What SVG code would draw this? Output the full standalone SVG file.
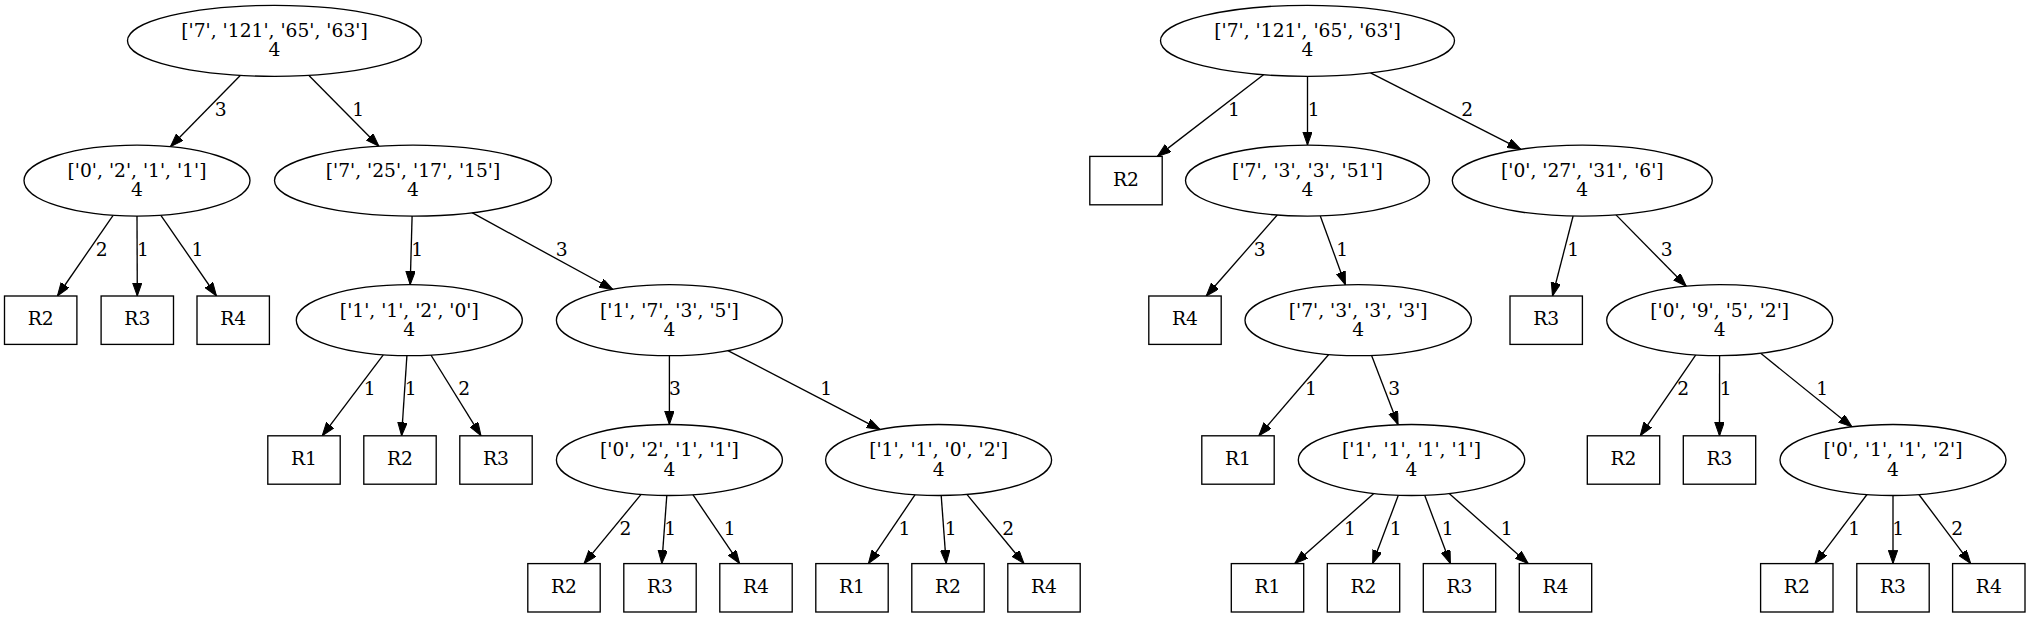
<svg xmlns="http://www.w3.org/2000/svg" width="2030" height="617" viewBox="0 0 2030 617">
<style>
.n ellipse,.n rect{fill:#fff;stroke:#000;stroke-width:1.34}
.t{font-family:"DejaVu Serif","Liberation Serif",serif;font-size:18.7px;text-anchor:middle;fill:#000}
.e line{stroke:#000;stroke-width:1.34;marker-end:url(#ah)}
</style>
<defs>
<marker id="ah" markerWidth="14" markerHeight="10" refX="13.4" refY="4.7" orient="auto" markerUnits="userSpaceOnUse"><path d="M0,0 L13.4,4.7 L0,9.4 z" fill="#000" stroke="#000" stroke-width="1"/></marker>
</defs>
<rect width="2030" height="617" fill="#fff"/>
<g id="edges" class="e">
<line x1="240.5" y1="75.3" x2="170.4" y2="146.7"/>
<line x1="308.7" y1="75.3" x2="378.9" y2="146.2"/>
<line x1="113.1" y1="215.3" x2="57.4" y2="296"/>
<line x1="137" y1="216.1" x2="137.3" y2="296"/>
<line x1="160.9" y1="215.3" x2="216.5" y2="296"/>
<line x1="412.1" y1="216.1" x2="410.2" y2="284.7"/>
<line x1="472" y1="212.7" x2="612.9" y2="289.5"/>
<line x1="383.3" y1="354.8" x2="322.2" y2="435.8"/>
<line x1="406.9" y1="355.7" x2="401.6" y2="435.8"/>
<line x1="430.9" y1="355" x2="481" y2="435.8"/>
<line x1="669.4" y1="355.7" x2="669.4" y2="424.5"/>
<line x1="727.9" y1="350.6" x2="880.1" y2="429.6"/>
<line x1="641.1" y1="494.4" x2="584" y2="563.6"/>
<line x1="666.8" y1="495.5" x2="661.8" y2="563.6"/>
<line x1="692.9" y1="494.7" x2="739.6" y2="563.6"/>
<line x1="915.1" y1="494.7" x2="868.4" y2="563.6"/>
<line x1="941.2" y1="495.5" x2="946.2" y2="563.6"/>
<line x1="966.9" y1="494.4" x2="1024" y2="563.6"/>
<line x1="1263.5" y1="74.7" x2="1157.4" y2="156.4"/>
<line x1="1307.5" y1="76.3" x2="1307.5" y2="145.1"/>
<line x1="1370.5" y1="72.9" x2="1520.8" y2="149.3"/>
<line x1="1277.3" y1="215" x2="1206.2" y2="296"/>
<line x1="1320.3" y1="215.9" x2="1345.4" y2="284.9"/>
<line x1="1573.1" y1="216" x2="1552.5" y2="296"/>
<line x1="1616" y1="214.9" x2="1686.3" y2="286.3"/>
<line x1="1328.7" y1="354.5" x2="1258.8" y2="435.8"/>
<line x1="1371.6" y1="355.4" x2="1398.1" y2="424.8"/>
<line x1="1695.8" y1="354.9" x2="1640.2" y2="435.8"/>
<line x1="1719.6" y1="355.7" x2="1719.5" y2="435.8"/>
<line x1="1760.7" y1="353.3" x2="1852" y2="426.9"/>
<line x1="1373.8" y1="493.5" x2="1294.8" y2="563.6"/>
<line x1="1398.3" y1="495.3" x2="1372.6" y2="563.6"/>
<line x1="1424.7" y1="495.3" x2="1450.4" y2="563.6"/>
<line x1="1449.2" y1="493.5" x2="1528.2" y2="563.6"/>
<line x1="1867" y1="494.5" x2="1815" y2="563.6"/>
<line x1="1893" y1="495.5" x2="1893" y2="563.6"/>
<line x1="1918.9" y1="494.5" x2="1970.7" y2="563.6"/>
<g class="t">
<text x="220.7" y="116">3</text>
<text x="358.3" y="116">1</text>
<text x="101.8" y="255.7">2</text>
<text x="142.9" y="255.7">1</text>
<text x="197.5" y="255.7">1</text>
<text x="417.1" y="255.7">1</text>
<text x="561.8" y="255.7">3</text>
<text x="369.6" y="395.2">1</text>
<text x="410.7" y="395.2">1</text>
<text x="464.3" y="395.2">2</text>
<text x="674.9" y="395.2">3</text>
<text x="826.1" y="395.2">1</text>
<text x="625.5" y="535">2</text>
<text x="670.3" y="535">1</text>
<text x="729.6" y="535">1</text>
<text x="904.5" y="535">1</text>
<text x="950.8" y="535">1</text>
<text x="1008.2" y="535">2</text>
<text x="1233.9" y="116">1</text>
<text x="1313.6" y="116">1</text>
<text x="1467.1" y="116">2</text>
<text x="1259.6" y="255.7">3</text>
<text x="1342.1" y="255.7">1</text>
<text x="1573.2" y="255.7">1</text>
<text x="1666.7" y="255.7">3</text>
<text x="1311" y="395.2">1</text>
<text x="1394.3" y="395.2">3</text>
<text x="1683.3" y="395.2">2</text>
<text x="1725.7" y="395.2">1</text>
<text x="1822.3" y="395.2">1</text>
<text x="1350" y="535">1</text>
<text x="1395.7" y="535">1</text>
<text x="1447.7" y="535">1</text>
<text x="1506.7" y="535">1</text>
<text x="1854.3" y="535">1</text>
<text x="1898.3" y="535">1</text>
<text x="1957.3" y="535">2</text>
</g>
</g>
<g id="A" class="n"><ellipse cx="274.5" cy="40.8" rx="147" ry="35.5"/><text class="t" x="274.5" y="37.1">['7', '121', '65', '63']</text><text class="t" x="274.5" y="56.4">4</text></g>
<g id="B" class="n"><ellipse cx="137" cy="180.6" rx="113" ry="35.5"/><text class="t" x="137" y="176.9">['0', '2', '1', '1']</text><text class="t" x="137" y="196.2">4</text></g>
<g id="C" class="n"><ellipse cx="413" cy="180.6" rx="138.5" ry="35.5"/><text class="t" x="413" y="176.9">['7', '25', '17', '15']</text><text class="t" x="413" y="196.2">4</text></g>
<g id="B1" class="n"><rect x="4.5" y="296" width="72.4" height="48.4"/><text class="t" x="40.7" y="325.2">R2</text></g>
<g id="B2" class="n"><rect x="101.1" y="296" width="72.4" height="48.4"/><text class="t" x="137.3" y="325.2">R3</text></g>
<g id="B3" class="n"><rect x="197" y="296" width="72.4" height="48.4"/><text class="t" x="233.2" y="325.2">R4</text></g>
<g id="D" class="n"><ellipse cx="409.3" cy="320.2" rx="113" ry="35.5"/><text class="t" x="409.3" y="316.5">['1', '1', '2', '0']</text><text class="t" x="409.3" y="335.8">4</text></g>
<g id="E" class="n"><ellipse cx="669.4" cy="320.2" rx="113" ry="35.5"/><text class="t" x="669.4" y="316.5">['1', '7', '3', '5']</text><text class="t" x="669.4" y="335.8">4</text></g>
<g id="D1" class="n"><rect x="267.8" y="435.8" width="72.4" height="48.4"/><text class="t" x="304" y="465">R1</text></g>
<g id="D2" class="n"><rect x="363.8" y="435.8" width="72.4" height="48.4"/><text class="t" x="400" y="465">R2</text></g>
<g id="D3" class="n"><rect x="459.8" y="435.8" width="72.4" height="48.4"/><text class="t" x="496" y="465">R3</text></g>
<g id="F" class="n"><ellipse cx="669.4" cy="460" rx="113" ry="35.5"/><text class="t" x="669.4" y="456.3">['0', '2', '1', '1']</text><text class="t" x="669.4" y="475.6">4</text></g>
<g id="G" class="n"><ellipse cx="938.6" cy="460" rx="113" ry="35.5"/><text class="t" x="938.6" y="456.3">['1', '1', '0', '2']</text><text class="t" x="938.6" y="475.6">4</text></g>
<g id="F1" class="n"><rect x="527.8" y="563.6" width="72.4" height="48.4"/><text class="t" x="564" y="592.8">R2</text></g>
<g id="F2" class="n"><rect x="623.8" y="563.6" width="72.4" height="48.4"/><text class="t" x="660" y="592.8">R3</text></g>
<g id="F3" class="n"><rect x="719.8" y="563.6" width="72.4" height="48.4"/><text class="t" x="756" y="592.8">R4</text></g>
<g id="G1" class="n"><rect x="815.8" y="563.6" width="72.4" height="48.4"/><text class="t" x="852" y="592.8">R1</text></g>
<g id="G2" class="n"><rect x="911.8" y="563.6" width="72.4" height="48.4"/><text class="t" x="948" y="592.8">R2</text></g>
<g id="G3" class="n"><rect x="1007.8" y="563.6" width="72.4" height="48.4"/><text class="t" x="1044" y="592.8">R4</text></g>
<g id="H" class="n"><ellipse cx="1307.5" cy="40.8" rx="147" ry="35.5"/><text class="t" x="1307.5" y="37.1">['7', '121', '65', '63']</text><text class="t" x="1307.5" y="56.4">4</text></g>
<g id="H1" class="n"><rect x="1089.8" y="156.4" width="72.4" height="48.4"/><text class="t" x="1126" y="185.6">R2</text></g>
<g id="I" class="n"><ellipse cx="1307.5" cy="180.6" rx="122" ry="35.5"/><text class="t" x="1307.5" y="176.9">['7', '3', '3', '51']</text><text class="t" x="1307.5" y="196.2">4</text></g>
<g id="J" class="n"><ellipse cx="1582.3" cy="180.6" rx="130" ry="35.5"/><text class="t" x="1582.3" y="176.9">['0', '27', '31', '6']</text><text class="t" x="1582.3" y="196.2">4</text></g>
<g id="I1" class="n"><rect x="1148.8" y="296" width="72.4" height="48.4"/><text class="t" x="1185" y="325.2">R4</text></g>
<g id="K" class="n"><ellipse cx="1358.2" cy="320.2" rx="113.2" ry="35.5"/><text class="t" x="1358.2" y="316.5">['7', '3', '3', '3']</text><text class="t" x="1358.2" y="335.8">4</text></g>
<g id="J1" class="n"><rect x="1510" y="296" width="72.4" height="48.4"/><text class="t" x="1546.2" y="325.2">R3</text></g>
<g id="L" class="n"><ellipse cx="1719.7" cy="320.2" rx="113" ry="35.5"/><text class="t" x="1719.7" y="316.5">['0', '9', '5', '2']</text><text class="t" x="1719.7" y="335.8">4</text></g>
<g id="K1" class="n"><rect x="1201.8" y="435.8" width="72.4" height="48.4"/><text class="t" x="1238" y="465">R1</text></g>
<g id="M" class="n"><ellipse cx="1411.5" cy="460" rx="113.2" ry="35.5"/><text class="t" x="1411.5" y="456.3">['1', '1', '1', '1']</text><text class="t" x="1411.5" y="475.6">4</text></g>
<g id="L1" class="n"><rect x="1587.3" y="435.8" width="72.4" height="48.4"/><text class="t" x="1623.5" y="465">R2</text></g>
<g id="L2" class="n"><rect x="1683.3" y="435.8" width="72.4" height="48.4"/><text class="t" x="1719.5" y="465">R3</text></g>
<g id="N" class="n"><ellipse cx="1893" cy="460" rx="113" ry="35.5"/><text class="t" x="1893" y="456.3">['0', '1', '1', '2']</text><text class="t" x="1893" y="475.6">4</text></g>
<g id="M1" class="n"><rect x="1231.3" y="563.6" width="72.4" height="48.4"/><text class="t" x="1267.5" y="592.8">R1</text></g>
<g id="M2" class="n"><rect x="1327.3" y="563.6" width="72.4" height="48.4"/><text class="t" x="1363.5" y="592.8">R2</text></g>
<g id="M3" class="n"><rect x="1423.3" y="563.6" width="72.4" height="48.4"/><text class="t" x="1459.5" y="592.8">R3</text></g>
<g id="M4" class="n"><rect x="1519.3" y="563.6" width="72.4" height="48.4"/><text class="t" x="1555.5" y="592.8">R4</text></g>
<g id="N1" class="n"><rect x="1760.6" y="563.6" width="72.4" height="48.4"/><text class="t" x="1796.8" y="592.8">R2</text></g>
<g id="N2" class="n"><rect x="1856.8" y="563.6" width="72.4" height="48.4"/><text class="t" x="1893" y="592.8">R3</text></g>
<g id="N3" class="n"><rect x="1952.6" y="563.6" width="72.4" height="48.4"/><text class="t" x="1988.8" y="592.8">R4</text></g>
</svg>
